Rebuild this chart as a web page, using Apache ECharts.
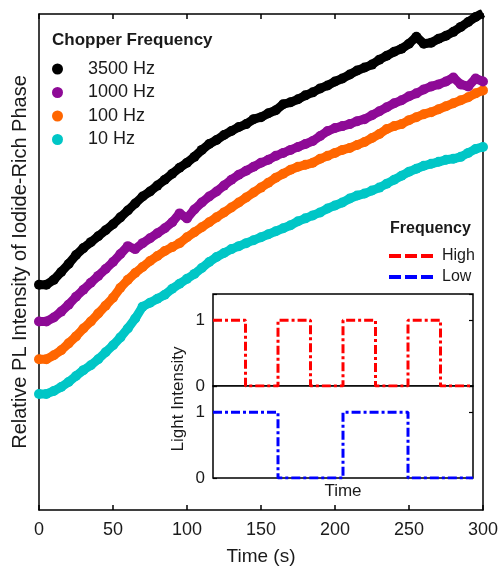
<!DOCTYPE html>
<html>
<head>
<meta charset="utf-8">
<script src="https://cdn.jsdelivr.net/npm/echarts@6/dist/echarts.min.js"></script>
<style>
  html, body { margin: 0; padding: 0; background: #fff; }
  #chart { width: 501px; height: 571px; }
</style>
</head>
<body>
<div id="chart"></div>
<script>
// time axis (s), one reading every 5 s
const time = [0,5,10,15,20,25,30,35,40,45,50,55,60,65,70,75,80,85,90,95,100,105,110,115,120,125,130,135,140,145,150,155,160,165,170,175,180,185,190,195,200,205,210,215,220,225,230,235,240,245,250,255,260,265,270,275,280,285,290,295,300];

// relative PL intensity (arbitrary units)
const hz3500 = [22.7,22.7,23.2,24.0,24.8,25.7,26.4,27.0,27.6,28.2,28.8,29.5,30.2,30.9,31.6,32.1,32.7,33.3,33.9,34.5,35.0,35.6,36.3,36.9,37.3,37.8,38.2,38.6,38.9,39.4,39.6,40.0,40.3,40.9,41.1,41.4,41.8,42.1,42.5,42.8,43.2,43.5,43.9,44.3,44.6,44.9,45.4,45.8,46.2,46.5,47.0,47.7,47.0,47.1,47.5,47.8,48.2,48.7,49.2,49.7,50.1];
const hz1000 = [19.0,19.0,19.4,20.0,20.7,21.5,22.2,22.9,23.6,24.3,25.0,25.8,26.6,26.3,26.9,27.4,27.9,28.4,29.0,29.9,29.4,30.3,31.0,31.6,32.1,32.7,33.3,33.8,34.2,34.6,35.0,35.3,35.7,36.0,36.3,36.6,36.9,37.2,37.7,38.2,38.5,38.7,38.9,39.2,39.4,39.8,40.2,40.6,41.0,41.3,41.7,42.0,42.4,42.7,42.9,43.2,43.6,42.9,42.7,43.5,43.2];
const hz100 = [15.2,15.2,15.6,16.1,16.8,17.5,18.3,19.0,19.8,20.6,21.4,22.4,23.2,23.9,24.5,25.1,25.6,26.1,26.5,26.9,27.5,28.0,28.5,29.0,29.5,30.0,30.5,31.0,31.5,32.0,32.5,33.0,33.5,33.9,34.3,34.6,34.8,35.0,35.4,35.7,36.0,36.3,36.5,36.8,37.1,37.5,37.9,38.4,38.7,38.9,39.3,39.6,39.9,40.1,40.4,40.7,41.0,41.3,41.6,42.0,42.3];
const hz10 = [11.7,11.7,12.0,12.4,12.9,13.5,14.1,14.6,15.2,15.9,16.6,17.4,18.3,19.3,20.5,20.9,21.3,21.7,22.3,22.8,23.3,23.8,24.4,25.0,25.5,25.9,26.3,26.6,26.9,27.2,27.5,27.8,28.1,28.4,28.7,29.1,29.4,29.7,30.0,30.4,30.7,31.0,31.4,31.7,31.9,32.2,32.5,32.9,33.3,33.7,34.1,34.4,34.7,34.9,35.1,35.3,35.4,35.6,36.0,36.4,36.6];

const seriesNames = ['3500 Hz', '1000 Hz', '100 Hz', '10 Hz'];
const seriesColors = ['#000000', '#8e0a96', '#ff6600', '#00c6c6'];
const seriesData = [hz3500, hz1000, hz100, hz10];

// inset: chopped light, x in half-periods of the high frequency
const highSteps = [[0,1],[1,0],[2,1],[3,0],[4,1],[5,0],[6,1],[7,0],[8,0]];
const lowSteps = [[0,1],[2,0],[4,1],[6,0],[8,0]];

const FONT = 'Liberation Sans';
const TXT = '#1a1a1a';
const dash = [9, 3, 3, 3];
const dashIcon = 'path://M0,0h12v4h-12zM16,0h12v4h-12zM32,0h12v4h-12z';

const chart = echarts.init(document.getElementById('chart'));

const mainSeries = seriesNames.map((name, i) => ({
  name: name,
  type: 'line',
  xAxisIndex: 0,
  yAxisIndex: 0,
  data: time.map((t, k) => [t, seriesData[i][k]]),
  symbol: 'circle',
  symbolSize: 10,
  showAllSymbol: true,
  itemStyle: { color: seriesColors[i] },
  lineStyle: { color: seriesColors[i], width: 9 },
  z: 5 - i
}));

const noAxis = { axisLine: { show: false }, axisTick: { show: false }, axisLabel: { show: false }, splitLine: { show: false } };
const insetY = (grid, right) => ({
  gridIndex: grid, type: 'value', min: 0, max: 1.4, interval: 1,
  position: right ? 'right' : 'left',
  axisLine: { show: false },
  axisTick: { show: true, inside: true, length: 4, lineStyle: { color: '#000', width: 1.2 } },
  axisLabel: { show: !right, fontFamily: FONT, fontSize: 17, color: TXT, margin: 8,
    formatter: v => (v === 0 || v === 1) ? String(v) : '' },
  splitLine: { show: false }
});

const option = {
  animation: false,
  backgroundColor: '#fff',
  textStyle: { fontFamily: FONT, color: TXT },
  title: [
    { text: 'Chopper Frequency', left: 47, top: 27,
      textStyle: { fontFamily: FONT, fontWeight: 'bold', fontSize: 17, color: TXT } },
    { text: 'Frequency', left: 385, top: 216,
      textStyle: { fontFamily: FONT, fontWeight: 'bold', fontSize: 16, color: TXT } }
  ],
  legend: [
    { data: seriesNames, orient: 'vertical', left: 47, top: 55,
      icon: 'circle', itemWidth: 11, itemHeight: 11, itemGap: 5.5,
      textStyle: { fontFamily: FONT, fontSize: 18, color: TXT, padding: [0, 0, 0, 20] } },
    { data: [{ name: 'High', icon: dashIcon }, { name: 'Low', icon: dashIcon }],
      orient: 'vertical', left: 384, top: 243,
      itemWidth: 44, itemHeight: 4, itemGap: 5,
      textStyle: { fontFamily: FONT, fontSize: 16, color: TXT, padding: [0, 0, 0, 4] } }
  ],
  grid: [
    { left: 39, right: 16, top: 14, bottom: 56 },
    { left: 213, top: 294, width: 260, height: 92, show: true, backgroundColor: '#fff', borderColor: '#000', borderWidth: 1.5 },
    { left: 213, top: 386, width: 260, height: 92, show: true, backgroundColor: '#fff', borderColor: '#000', borderWidth: 1.5 }
  ],
  xAxis: [
    { gridIndex: 0, type: 'value', min: 0, max: 300, interval: 50,
      name: 'Time (s)', nameLocation: 'middle', nameGap: 37,
      nameTextStyle: { fontFamily: FONT, fontSize: 19, color: TXT },
      axisLine: { onZero: false, lineStyle: { color: '#000', width: 1.5 } },
      axisTick: { inside: true, length: 5, lineStyle: { color: '#000', width: 1.5 } },
      axisLabel: { fontFamily: FONT, fontSize: 18, color: TXT, margin: 11 },
      splitLine: { show: false } },
    { gridIndex: 0, type: 'value', position: 'top', min: 0, max: 300, interval: 50,
      axisLine: { show: true, onZero: false, lineStyle: { color: '#000', width: 1.5 } },
      axisTick: { show: true, inside: true, length: 5, lineStyle: { color: '#000', width: 1.5 } },
      axisLabel: { show: false }, splitLine: { show: false } },
    Object.assign({ gridIndex: 1, type: 'value', min: 0, max: 8 }, noAxis),
    Object.assign({ gridIndex: 2, type: 'value', min: 0, max: 8,
      name: 'Time', nameLocation: 'middle', nameGap: 5,
      nameTextStyle: { fontFamily: FONT, fontSize: 17, color: TXT } }, noAxis)
  ],
  yAxis: [
    { gridIndex: 0, type: 'value', min: 0, max: 50,
      name: 'Relative PL Intensity of Iodide-Rich Phase', nameLocation: 'middle', nameGap: 9,
      nameTextStyle: { fontFamily: FONT, fontSize: 20, color: TXT },
      axisLine: { show: true, onZero: false, lineStyle: { color: '#000', width: 1.5 } },
      axisTick: { show: false }, axisLabel: { show: false }, splitLine: { show: false } },
    { gridIndex: 0, type: 'value', position: 'right', min: 0, max: 50,
      axisLine: { show: true, onZero: false, lineStyle: { color: '#000', width: 1.5 } },
      axisTick: { show: false }, axisLabel: { show: false }, splitLine: { show: false } },
    insetY(1, false),
    insetY(1, true),
    insetY(2, false),
    insetY(2, true)
  ],
  graphic: [
    { type: 'text', x: 178, y: 399, rotation: Math.PI / 2,
      style: { text: 'Light Intensity', fontFamily: FONT, fontSize: 17, fill: TXT,
        align: 'center', verticalAlign: 'middle' } }
  ],
  series: mainSeries.concat([
    { name: 'High', type: 'line', xAxisIndex: 2, yAxisIndex: 2, step: 'end',
      data: highSteps, symbol: 'none', z: 10,
      itemStyle: { color: '#ff0000' },
      lineStyle: { color: '#ff0000', width: 3, type: dash } },
    { name: 'Low', type: 'line', xAxisIndex: 3, yAxisIndex: 4, step: 'end',
      data: lowSteps, symbol: 'none', z: 10,
      itemStyle: { color: '#0000ff' },
      lineStyle: { color: '#0000ff', width: 3, type: dash } }
  ])
};

chart.setOption(option);
</script>
</body>
</html>
